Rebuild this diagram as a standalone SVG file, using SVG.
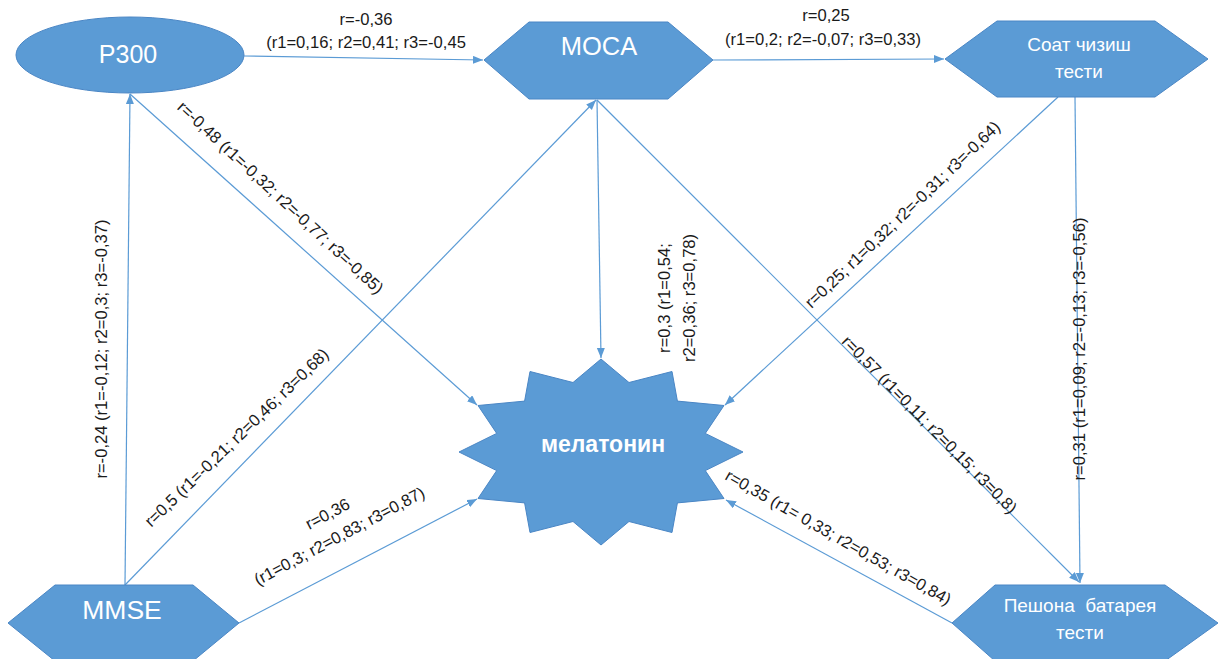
<svg xmlns="http://www.w3.org/2000/svg" width="1222" height="659" viewBox="0 0 1222 659">
<style>
.node{fill:#5B9BD5;stroke:#4A86C5;stroke-width:1}
.nt{font-family:"Liberation Sans",Arial,sans-serif;fill:#fff;text-anchor:middle}
.lbl{font-family:"Liberation Sans",Arial,sans-serif;font-size:16.6px;fill:#1a1a1a;text-anchor:middle}
.edge{fill:none;stroke:#5B9BD5;stroke-width:1.2;marker-end:url(#arr)}
</style>
<defs>
<marker id="arr" markerUnits="userSpaceOnUse" markerWidth="11" markerHeight="9" refX="10" refY="4" orient="auto">
<path d="M0,0 L10,4 L0,8 z" fill="#5B9BD5"/>
</marker>
</defs>
<rect width="1222" height="659" fill="#fff"/>
<g id="connectors">
<path class="edge" d="M244,56 L483,60"/>
<path class="edge" d="M713,60 L944,59"/>
<path class="edge" d="M125,585 L130,94"/>
<path class="edge" d="M130,94 L477,405"/>
<path class="edge" d="M125,585 L596,100"/>
<path class="edge" d="M597,100 L601,358"/>
<path class="edge" d="M597,100 L1079,582"/>
<path class="edge" d="M1058,97 L725,405"/>
<path class="edge" d="M1075,97 L1080,583"/>
<path class="edge" d="M239,623 L477,499"/>
<path class="edge" d="M952,623 L726,500"/>
</g>
<g id="node-p300">
<ellipse class="node" cx="130" cy="55" rx="114" ry="38"/>
<text class="nt" x="128" y="63" font-size="25">P300</text>
</g>
<g id="node-moca">
<polygon class="node" points="484,60 529,22 668,22 713,60 668,99 529,99"/>
<text class="nt" x="599" y="55" font-size="25.5">MOCA</text>
</g>
<g id="node-soat">
<polygon class="node" points="945,59 997,21 1155,21 1208,59 1155,97 997,97"/>
<text class="nt" x="1079" y="51" font-size="19">Соат чизиш</text>
<text class="nt" x="1079" y="78" font-size="19">тести</text>
</g>
<g id="node-mmse">
<polygon class="node" points="8,623 55,585 193,585 239,623 193,661 55,661"/>
<text class="nt" x="122" y="619" font-size="26.5">MMSE</text>
</g>
<g id="node-peshona">
<polygon class="node" points="952,623 995,585 1165,585 1218,623 1165,661 995,661"/>
<text class="nt" x="1080" y="612" font-size="19" xml:space="preserve">Пешона  батарея</text>
<text class="nt" x="1080" y="639" font-size="19">тести</text>
</g>
<g id="node-melatonin">
<polygon class="node" points="743,452 705.3,433.4 724,405.5 677.4,401.1 672,371.5 629,382.5 601,359 573,382.5 530,371.5 524.6,401.1 478,405.5 496.7,433.4 459,452 496.7,470.6 478,498.5 524.6,502.9 530,532.5 573,521.5 601,545 629,521.5 672,532.5 677.4,502.9 724,498.5 705.3,470.6"/>
<text class="nt" x="603" y="452" font-size="23" font-weight="bold">мелатонин</text>
</g>
<g id="labels">
<text class="lbl" x="366" y="25">r=-0,36</text>
<text class="lbl" x="366" y="48">(r1=0,16; r2=0,41; r3=-0,45</text>
<text class="lbl" x="826" y="21">r=0,25</text>
<text class="lbl" x="823" y="45">(r1=0,2; r2=-0,07; r3=0,33)</text>
<g transform="translate(102,349) rotate(-90)"><text class="lbl" x="0" y="5">r=-0,24 (r1=-0,12; r2=0,3; r3=-0,37)</text></g>
<g transform="translate(280,198) rotate(42.9)"><text class="lbl" x="0" y="5">r=-0,48 (r1=-0,32; r2=-0,77; r3=-0,85)</text></g>
<g transform="translate(237,438) rotate(-44)"><text class="lbl" x="0" y="5">r=0,5 (r1=-0,21; r2=0,46; r3=0,68)</text></g>
<g transform="translate(334,526) rotate(-28)"><text class="lbl" x="0" y="-8">r=0,36</text><text class="lbl" x="0" y="17">(r1=0,3; r2=0,83; r3=0,87)</text></g>
<g transform="translate(676,298) rotate(-90)"><text class="lbl" x="0" y="-6">r=0,3 (r1=0,54;</text><text class="lbl" x="0" y="19">r2=0,36; r3=0,78)</text></g>
<g transform="translate(903,215) rotate(-43.6)"><text class="lbl" x="0" y="5">r=0,25; r1=0,32; r2=-0,31; r3=-0,64)</text></g>
<g transform="translate(929,425) rotate(45.5)"><text class="lbl" x="0" y="5">r=0,57 (r1=0,11; r2=0,15; r3=0,8)</text></g>
<g transform="translate(838,538) rotate(29.6)"><text class="lbl" x="0" y="5">r=0,35 (r1= 0,33; r2=0,53; r3=0,84)</text></g>
<g transform="translate(1079,349) rotate(-90)"><text class="lbl" x="0" y="6">r=0,31 (r1=0,09; r2=-0,13; r3=-0,56)</text></g>
</g>
</svg>
